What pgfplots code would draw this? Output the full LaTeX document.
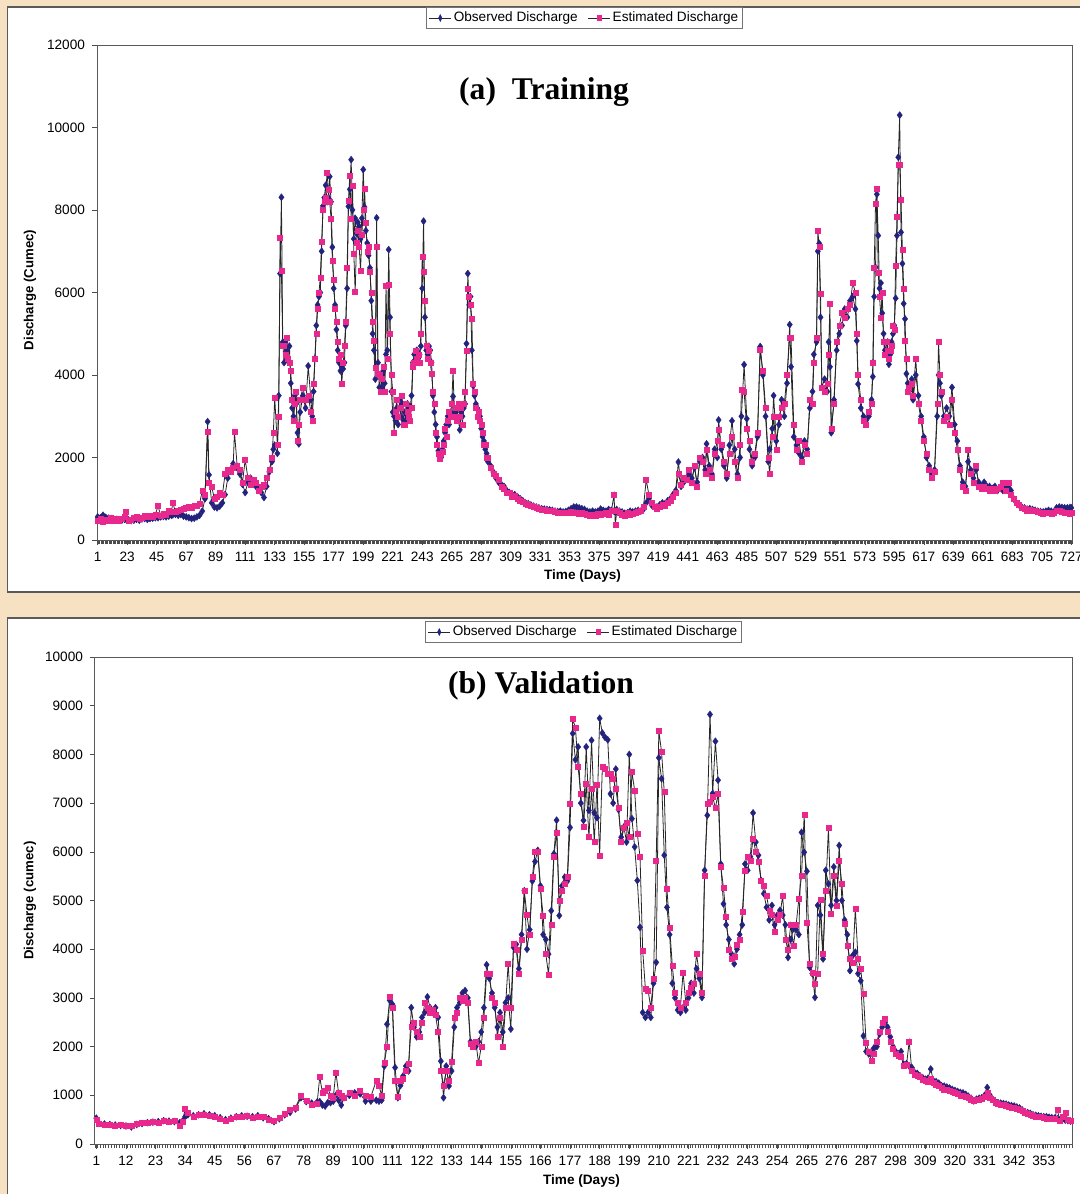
\documentclass[border=0pt]{standalone}
\usepackage{pgfplots}
\pgfplotsset{compat=1.18}
\usepackage{pgfplotstable}
\usepackage{fontspec}
\setmainfont{Liberation Sans}
\newfontfamily\timesfont{Liberation Serif}
\definecolor{bgpeach}{RGB}{246,225,195}
\definecolor{obsblue}{RGB}{35,35,125}
\definecolor{estpink}{RGB}{232,40,140}
\definecolor{framegray}{RGB}{90,90,90}

\pgfplotstableread{
d o e
1 560 480
3 540 520
5 600 450
7 550 500
9 530 470
11 520 530
13 510 480
15 500 520
17 490 470
19 480 520
21 500 560
22 510 680
24 490 480
26 470 500
28 480 540
30 500 560
32 480 520
34 510 540
36 520 580
38 500 560
40 520 600
42 530 560
44 540 620
46 540 820
48 560 600
50 570 640
52 560 620
54 580 700
56 600 680
57 610 900
59 620 680
61 600 720
63 620 740
65 580 760
67 560 780
69 540 800
71 520 780
73 530 840
75 560 820
77 600 880
79 700 1200
81 1000 1100
83 2870 2620
84 1580 1400
86 900 1300
88 800 1000
90 780 1050
92 820 1150
94 900 1100
96 1100 1600
98 1500 1700
100 1700 1650
102 1850 1750
103 1800 2620
105 1750 1800
107 1600 1700
109 1350 1400
111 1150 1950
113 1400 1500
115 1500 1350
117 1350 1450
119 1300 1400
121 1250 1200
123 1150 1300
125 1030 1350
127 1300 1500
129 1650 1700
131 1900 2000
132 2200 2600
133 2300 3450
135 2100 2300
136 3500 3000
137 6460 7340
138 8310 6540
139 4800 4700
140 4300 4700
141 4800 4500
142 4600 4900
143 4400 4400
144 4700 4300
145 3800 4100
146 3200 3400
147 3000 2900
148 3500 3300
149 3300 3600
150 2600 2410
151 2330 2800
152 3100 3400
154 3500 3700
156 3200 3400
158 4220 3500
160 3400 3100
161 3000 2900
162 3600 3800
163 4400 4400
164 5200 5000
165 5700 5600
166 5900 6000
167 6000 6360
168 7000 7220
169 8100 8000
170 8300 8200
171 8600 8300
172 8200 8900
173 8300 8500
174 8810 8200
175 8200 7800
176 7100 6780
177 6100 6300
178 5700 5600
179 5100 5300
180 4600 4800
181 4300 4400
182 4100 4500
183 4200 3780
184 4150 4300
185 4300 4700
186 5200 5300
187 6100 6600
188 8090 8230
189 8500 8840
190 9220 7800
191 8000 8600
192 7300 6950
193 7800 6010
194 7430 7200
195 7700 7500
196 7600 7100
197 7300 6530
198 7800 7400
199 8980 8000
200 8070 8520
201 7500 7700
202 7200 7000
203 6900 7100
204 6600 6500
205 5800 6000
206 5000 5300
207 4600 4830
208 3900 4180
209 7810 7100
210 4300 4030
211 3700 4000
212 4000 3600
213 3700 3900
214 4100 4200
215 3800 3600
216 4500 6170
217 4600 4400
218 7040 6200
219 5400 5000
220 3600 4000
221 3100 3600
222 3000 2600
223 2900 3100
224 3200 3400
225 2800 3000
226 3400 3200
227 3000 3200
228 3300 3500
229 2900 2800
230 3100 2800
231 2900 3300
232 3300 3100
233 3000 3000
234 3200 2900
235 3500 3200
236 4300 4200
237 4500 4300
238 4300 4600
239 4600 4400
240 4400 4500
241 4500 4300
242 4700 5000
243 6100 6860
244 7730 6500
245 5400 5800
246 4600 4700
247 4500 4400
248 4700 4600
249 4600 4300
250 4300 4030
251 3500 3600
252 3100 3300
253 2800 2600
254 2500 2300
255 2160 2100
256 2000 1960
257 2000 2100
258 2200 2150
259 2400 2300
260 2600 2700
261 2800 2500
262 3000 2900
263 2800 3100
264 3100 3000
265 3000 3300
266 3480 4100
267 3100 3000
268 3000 3200
269 3200 2900
270 2900 3300
271 2670 3000
272 3100 3200
273 3000 2800
274 3200 3300
275 3300 3600
276 4760 4600
277 6460 6100
278 5700 5900
279 5900 5700
280 4600 5360
281 3740 3800
282 3500 3600
283 3300 3200
284 3200 3000
285 3000 3100
286 3000 2900
287 2700 2800
288 2500 2600
289 2400 2300
290 2200 2300
291 2100 2000
292 1900 2000
294 1800 1750
296 1650 1600
298 1500 1550
300 1400 1450
302 1350 1300
304 1300 1250
306 1200 1150
308 1150 1150
310 1100 1050
312 1100 1080
314 1050 1000
316 1000 950
318 950 930
320 900 880
322 880 860
324 850 830
326 820 800
328 800 780
330 780 760
332 760 740
334 750 730
336 740 720
338 730 700
340 720 700
342 700 680
344 690 670
346 700 660
348 680 650
350 690 660
352 720 650
354 760 680
356 800 650
358 800 660
360 780 640
362 760 650
364 740 640
366 700 620
368 680 600
370 700 620
372 680 600
374 700 640
376 750 620
378 720 640
380 700 660
382 740 620
384 720 700
386 700 1090
387 680 360
388 740 700
390 700 650
392 680 620
394 650 600
396 660 650
398 700 620
400 680 640
402 700 660
404 720 680
406 700 700
408 750 800
410 900 1460
412 1000 1100
414 850 900
416 820 800
418 800 750
420 850 800
422 900 850
424 880 820
426 950 900
428 1000 950
430 1100 1050
432 1200 1150
434 1890 1600
436 1300 1350
438 1400 1500
440 1500 1450
442 1600 1700
444 1500 1400
446 1750 1800
448 1400 1300
450 1900 2000
452 2000 1900
454 1700 1600
455 2330 2200
457 1800 1700
459 1600 1500
461 2200 2100
463 2000 2400
464 2910 2680
466 2200 2300
468 1800 1900
470 1500 1600
472 2300 2100
474 2890 2500
476 2200 1900
478 1600 1500
480 2000 2300
481 3000 3640
483 4250 3600
485 2940 2700
487 2200 2400
489 1800 1900
491 2000 2100
493 2500 2600
495 4690 4610
497 4000 4100
499 3000 3200
501 1900 2000
502 2200 1600
504 2700 2500
505 3500 3000
507 2400 2200
509 2800 3000
511 3400 3200
513 3000 3300
515 3800 4000
517 5220 4910
518 4200 4900
520 2500 2800
522 2300 2200
524 2100 2400
526 2000 1900
528 2400 2300
530 2200 2100
532 3200 3400
534 3600 3300
535 4500 4300
537 4800 4900
538 7000 7500
539 7190 7100
540 5400 5970
541 3700 3700
543 3900 3600
545 3600 3800
546 4800 4500
547 4200 5730
548 2600 2700
550 3400 3300
552 4600 4800
554 5000 5200
556 5200 5500
558 5600 5400
560 5400 5600
562 5800 5700
564 5900 6230
566 5600 6000
567 4830 5000
568 3780 4000
570 3200 3400
572 3000 2900
574 2900 2800
576 3000 3100
578 3400 3300
579 3960 4300
580 5900 6600
581 6610 8160
582 8380 8520
583 7380 6490
584 6100 5900
585 6230 5400
586 5500 6000
587 5000 4800
588 4600 4500
589 4500 4800
590 4800 4600
591 4260 4400
592 4500 4600
593 4800 4700
594 5000 5200
595 5200 5100
596 5860 6650
597 7380 7830
598 9280 9090
599 10300 9100
600 7460 8260
601 6700 7040
602 5730 6100
603 5360 4830
604 4030 4400
605 3800 3600
606 3600 3700
608 3900 3800
609 3400 3500
611 4000 4400
613 3500 3300
615 3000 2900
617 2500 2400
619 2000 2100
621 1800 1700
623 1600 1500
625 1700 1650
627 3000 3300
628 4000 4800
629 3800 4000
630 3500 3600
632 3000 2900
634 3200 3000
636 3000 2800
638 3700 3400
640 2800 2600
642 2400 2200
644 1800 1700
646 1400 1300
648 1300 1200
650 1900 2200
652 1700 1600
654 1500 1400
656 1700 1800
658 1400 1300
660 1300 1250
662 1400 1300
664 1300 1250
666 1300 1200
668 1250 1250
670 1300 1200
672 1200 1250
674 1250 1300
676 1200 1400
678 1250 1200
680 1300 1400
682 1200 1100
684 1000 1000
686 900 900
688 850 850
690 800 780
692 780 750
694 750 720
696 760 740
698 740 700
700 720 700
702 700 680
704 690 650
706 680 640
708 700 650
710 720 660
712 700 640
714 680 650
716 780 700
718 800 700
720 790 680
722 780 670
724 780 650
726 790 640
727 780 650
}\train

\pgfplotstableread{
d o e
1 530 500
2 430 420
4 410 400
6 400 390
8 390 380
10 380 390
12 370 380
14 350 370
16 400 410
18 420 440
20 440 430
22 450 460
24 460 440
26 480 470
28 470 450
30 460 470
32 440 380
33 470 460
34 560 720
35 600 640
37 580 560
39 600 600
41 620 610
43 600 590
45 580 570
47 540 530
49 500 480
51 530 520
53 560 570
55 580 560
57 570 590
59 560 550
61 580 560
63 540 570
65 520 500
67 460 480
69 520 540
71 600 620
73 650 700
75 720 750
77 950 1000
79 870 880
81 840 800
83 860 820
84 870 1380
85 800 1050
86 780 1100
87 850 1150
88 850 1000
89 880 950
90 1000 1470
91 900 1050
92 800 1000
93 950 950
95 1000 1050
97 1050 1000
99 1030 1100
101 880 1000
103 880 970
105 900 1300
106 880 1200
107 900 1000
108 1600 1670
109 2460 2000
110 2950 3020
111 2870 2800
112 1570 1300
113 950 980
114 1200 1300
115 1400 1350
116 1600 1500
117 1500 1650
118 2800 2400
119 2400 2500
120 2200 2300
121 2300 2200
122 2600 2500
123 2700 2900
124 3020 2800
125 2800 2700
126 2700 2750
127 2800 2650
128 2600 2300
129 1700 1500
130 950 1200
131 1600 1500
132 1190 1300
133 1500 1700
134 2400 2600
135 2800 2700
136 2900 3000
137 3100 2950
138 3150 3000
139 3000 2900
140 2100 2050
141 2050 2000
142 2000 2100
143 2100 1660
144 2300 2000
145 2800 2600
146 3680 3500
147 3400 3500
148 3100 3000
149 2800 2900
150 2400 2200
151 2700 2600
152 2300 2000
153 2900 2800
154 3000 3700
155 2360 2800
156 4040 4110
157 4100 4000
158 3600 3500
159 4300 4200
160 5200 5200
161 4000 4700
162 4400 4300
163 5400 5480
164 5800 6010
165 6030 6000
166 5300 5240
167 4300 4690
168 4200 3900
169 3900 3480
170 4790 4500
171 5960 5900
172 6650 6400
173 4690 5000
174 5300 5200
175 5480 5340
176 5400 5480
177 6500 6990
178 8430 8725
179 7890 8550
180 8155 7740
181 7000 7190
182 6645 6510
183 8155 7400
184 6850 6300
185 8290 7300
186 6800 6200
187 6700 7370
188 8740 5930
189 8440 7745
190 8350 7700
191 8300 7600
192 7190 7600
193 7000 7500
194 7700 7300
195 6865 6900
196 6300 6200
197 6510 6500
198 6200 6600
199 8000 6300
200 6680 7640
201 6100 7260
202 5410 6370
203 4450 5900
204 2700 3970
205 2600 3180
206 2700 3150
207 2600 2800
208 3300 3390
209 3730 5820
210 7930 8480
211 7500 8050
212 5930 7230
213 4860 5240
214 4300 4450
215 3300 3660
216 3000 3100
217 2750 2900
218 2700 2800
219 2800 3525
220 2750 2900
221 3000 3100
222 3300 3200
223 3100 3300
224 3600 3900
225 3400 3500
226 3010 3100
227 5620 5500
228 6750 6990
229 8820 7025
230 7200 7130
231 8270 6900
232 7470 7190
233 5750 5700
234 4930 5260
235 4500 4660
236 4200 4000
237 3900 3800
238 3700 3850
239 4000 4100
240 4300 4200
241 4500 4760
242 5750 5620
243 5620 5900
244 5900 5820
245 6800 6270
246 6200 6000
247 5930 5800
248 5410 5400
249 5140 5300
250 4860 5100
251 4600 4800
252 4900 4700
253 4500 4350
254 4700 4600
255 4800 4700
256 4700 5100
257 4500 4200
258 3830 4000
259 4200 4500
260 4420 4070
261 4400 4500
262 4300 5030
263 6400 5500
264 5990 6770
265 5600 4550
266 3630 3700
267 3500 3525
268 3010 3290
269 4900 3500
270 4700 5010
271 3800 3900
272 5620 5200
273 5340 6490
274 4900 4730
275 5690 5500
276 5000 4900
277 6130 5820
278 5000 5340
279 4600 4520
280 4300 4070
281 3560 3800
282 3870 3730
283 3940 4830
284 3500 3800
285 3350 3590
286 2220 3080
287 1900 2085
288 1850 1900
289 1900 1710
290 1980 1850
291 2000 2100
292 2260 2300
293 2400 2500
294 2500 2565
295 2400 2300
296 2200 2100
297 2000 1950
298 1900 1850
299 1850 1810
300 1900 1800
301 1640 1600
302 1650 1620
303 1600 2105
304 1570 1500
305 1470 1420
306 1450 1400
307 1400 1380
308 1365 1330
309 1330 1300
310 1350 1280
311 1540 1350
312 1300 1250
313 1280 1220
314 1250 1200
315 1200 1150
316 1190 1120
317 1170 1120
318 1150 1100
319 1120 1080
320 1100 1050
321 1080 1030
322 1060 1000
323 1050 1000
324 1020 980
325 980 950
326 940 900
327 885 880
328 920 900
329 940 920
330 950 930
331 1000 980
332 1160 1050
333 1000 950
334 920 900
335 870 840
336 850 820
337 840 800
338 830 800
339 820 780
340 800 760
341 790 750
342 780 740
343 760 720
344 740 700
345 700 680
346 660 640
347 645 620
348 630 600
349 600 580
350 590 570
351 580 560
352 570 560
353 560 540
354 560 530
355 550 520
356 540 510
357 530 520
358 520 713
359 500 480
360 510 560
361 490 650
362 480 500
363 470 480
}\valid

\pgfplotsset{
  dstyle/.style={
    scale only axis,
    clip=false,
    axis line style={draw=black!65, line width=0.5pt},
    tick style={draw=black!70, line width=0.3pt},
    tick align=outside,
    xtick pos=bottom, ytick pos=left,
    major tick length=2.5pt,
    minor tick length=2pt,
    tick label style={font=\fontsize{6.8}{8}\selectfont},
    /pgf/number format/assume math mode=true,
    /pgf/number format/1000 sep={},
    scaled ticks=false,
    ymin=0,
    legend style={draw=black!55, line width=0.4pt, font=\fontsize{6.8}{8}\selectfont,
      legend columns=2, anchor=center, inner sep=1pt,
      nodes={inner sep=1pt},
      /tikz/every even column/.append style={column sep=4pt}},
    legend image post style={xscale=0.65},
    legend cell align=left,
  },
  obs/.style={black!85, line width=0.4pt, mark=diamond*, mark size=1.75pt,
    mark options={fill=obsblue, draw=obsblue, line width=0.2pt}},
  est/.style={black!85, line width=0.4pt, mark=square*, mark size=1.25pt,
    mark options={fill=estpink, draw=estpink, line width=0.2pt}},
}

\begin{document}
\begin{tikzpicture}
\fill[bgpeach] (0,0) rectangle (540pt,-597pt);
\filldraw[fill=white, draw=framegray, line width=0.7pt] (3.8pt,-3.5pt) rectangle (550pt,-296pt);
\filldraw[fill=white, draw=framegray, line width=0.7pt] (3.8pt,-309pt) rectangle (550pt,-610pt);

\begin{axis}[dstyle,
  at={(48.5pt,-270pt)}, anchor=south west,
  width=487.5pt, height=247.5pt,
  xmin=0.5, xmax=727.5, ymax=12000,
  xtick={1,23,...,727},
  minor xtick={0.5,1.5,...,727.5},
  ytick={0,2000,...,12000},
  legend style={at={(rel axis cs:0.5,1.0545)}},
]
\addplot[obs] table[x=d,y=o] {\train};
\addlegendentry{Observed Discharge}
\addplot[est] table[x=d,y=e] {\train};
\addlegendentry{Estimated Discharge}
\node[font=\timesfont\bfseries\fontsize{15.8}{18}\selectfont] at (rel axis cs:0.4585,0.905) {(a)\ \ Training};
\node[rotate=90, font=\bfseries\fontsize{6.6}{8}\selectfont] at (rel axis cs:-0.0687,0.505) {Discharge (Cumec)};
\node[font=\bfseries\fontsize{6.8}{8}\selectfont] at (rel axis cs:0.498,-0.0727) {Time (Days)};
\end{axis}

\begin{axis}[dstyle,
  at={(47.5pt,-572pt)}, anchor=south west,
  width=488.5pt, height=243.5pt,
  xmin=0.5, xmax=363.5, ymax=10000,
  xtick={1,12,...,353},
  minor xtick={0.5,1.5,...,363.5},
  ytick={0,1000,...,10000},
  legend style={at={(rel axis cs:0.5,1.0513)}},
]
\addplot[obs] table[x=d,y=o] {\valid};
\addlegendentry{Observed Discharge}
\addplot[est] table[x=d,y=e] {\valid};
\addlegendentry{Estimated Discharge}
\node[font=\timesfont\bfseries\fontsize{15.8}{18}\selectfont] at (rel axis cs:0.4565,0.940) {(b) Validation};
\node[rotate=90, font=\bfseries\fontsize{6.6}{8}\selectfont] at (rel axis cs:-0.0665,0.50) {Discharge (cumec)};
\node[font=\bfseries\fontsize{6.8}{8}\selectfont] at (rel axis cs:0.498,-0.076) {Time (Days)};
\end{axis}

\pgfresetboundingbox
\useasboundingbox (0,0) rectangle (540pt,-597pt);
\end{tikzpicture}
\end{document}
